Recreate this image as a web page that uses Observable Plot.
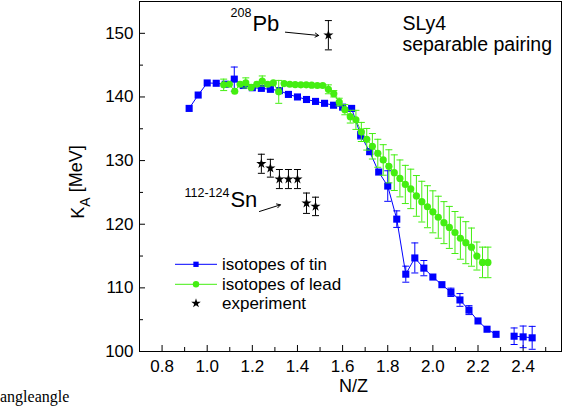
<!DOCTYPE html>
<html>
<head>
<meta charset="utf-8">
<script src="https://cdn.jsdelivr.net/npm/d3@7"></script>
<script src="https://cdn.jsdelivr.net/npm/@observablehq/plot@0.6"></script>
<style>
  body { margin: 0; background: #fff; }
  #chart { position: relative; width: 569px; height: 406px; }
</style>
</head>
<body>
<div id="chart"></div>
<script>
// ---------- data ----------
const tinNZ = [0.92,0.96,1.00,1.04,1.08,1.12,1.16,1.20,1.24,1.28,1.32,1.36,1.40,1.44,1.48,1.52,1.56,1.60,1.64,1.68,1.72,1.76,1.80,1.84,1.88,1.92,1.96,2.00,2.04,2.08,2.12,2.16,2.20,2.24,2.28,2.32,2.36,2.40,2.44];
const tinK  = [138.2,140.3,142.2,142.15,142.0,142.8,141.8,141.45,141.35,141.2,141.0,140.4,140.0,139.6,139.3,139.0,138.7,138.4,138.2,134.0,131.4,128.2,126.0,120.8,112.15,114.7,113.1,111.7,110.5,109.3,108.1,106.5,104.8,103.5,102.7,NaN,102.4,102.3,102.15];
const tinErr = [0,0,0,0,0,1.9,0,0,0,0,0,0,0,0,0,0,0,0,0,0.6,0.4,0,2.4,1.3,1.26,2.36,1.2,0,0,0.65,1.0,0.7,0,0,0,0,1.3,1.7,1.8];

const leadNZ = [1.073,1.098,1.122,1.146,1.171,1.195,1.220,1.244,1.268,1.293,1.317,1.341,1.366,1.390,1.415,1.439,1.463,1.488,1.512,1.537,1.561,1.585,1.610,1.634,1.659,1.683,1.707,1.732,1.756,1.780,1.805,1.829,1.854,1.878,1.902,1.927,1.951,1.976,2.000,2.024,2.049,2.073,2.098,2.122,2.146,2.171,2.195,2.220,2.244];
const leadK  = [141.9,142.0,140.9,142.0,142.2,141.5,142.0,142.5,142.0,142.2,140.8,142.1,142.0,141.95,141.9,141.9,141.85,141.8,141.8,141.2,140.5,139.2,138.0,136.9,136.4,134.5,133.35,132.25,131.15,130.1,129.1,128.1,127.2,126.25,125.55,124.45,123.55,122.75,121.95,121.1,120.25,119.5,118.7,117.8,117.1,116.4,115.0,114.0,114.0];
const leadErr = [0.9,0,0,0,0.8,0,0,0.8,0,0,1.8,0,0,0,0,0,0,0,0,0.7,0.5,0.6,0.8,1.0,1.5,1.5,1.7,2.0,2.2,2.4,2.6,2.8,2.9,3.0,3.1,3.2,3.2,3.3,3.3,3.3,3.3,3.3,3.3,3.3,3.3,3.0,2.2,2.4,2.4];

const expNZ  = [1.24,1.28,1.32,1.36,1.40,1.44,1.48,1.537];
const expK   = [129.5,128.8,127.1,127.1,127.1,123.3,122.8,149.7];
const expErr = [1.5,1.4,1.5,1.5,1.5,1.6,1.45,2.3];

const xTicks = [0.8,1.0,1.2,1.4,1.6,1.8,2.0,2.2,2.4];
const xMinor = [0.9,1.1,1.3,1.5,1.7,1.9,2.1,2.3,2.5];
const yTicks = [100,110,120,130,140,150];
const yMinor = [105,115,125,135,145];

const seriesNames = ["isotopes of tin","isotopes of lead","experiment"];
const xLabel = "N/Z";
const caption = "angleangle";

// annotation texts (anchored in data units)
const notesStart = [
  {x: 1.2005, y: 150.4, text: "Pb", size: 22},
  {x: 1.103, y: 122.63, text: "Sn", size: 22},
  {x: 1.865, y: 150.55, text: "SLy4", size: 19.5},
  {x: 1.865, y: 147.2, text: "separable pairing", size: 19.5}
];
const notesSup = [
  {x: 1.2005, y: 152.6, text: "208", size: 12.5},
  {x: 1.103, y: 124.25, text: "112-124", size: 12.5}
];
const arrows = [
  {x1: 1.3466, y1: 150.18, x2: 1.494, y2: 149.66},
  {x1: 1.2315, y1: 122.0, x2: 1.3245, y2: 123.05}
];

// ---------- build ----------
const BLUE = "#0000ff", GREEN = "#44ee11", BLACK = "#000";
const W = 569, H = 406, mL = 139, mR = 8, mT = 1, mB = 55;
const FW = W - mL - mR, FH = H - mT - mB;
const FONT = "'Liberation Sans', Arial, Helvetica, sans-serif";

const tin = tinNZ.map((x, i) => ({x, k: tinK[i], e: tinErr[i]}));
const lead = leadNZ.map((x, i) => ({x, k: leadK[i], e: leadErr[i]}));
const exp = expNZ.map((x, i) => ({x, k: expK[i], e: expErr[i]}));
const withErr = arr => arr.filter(d => d.e > 0 && !isNaN(d.k));

const cap = {draw(ctx, size) { const r = Math.sqrt(size / Math.PI); ctx.moveTo(-r, 0); ctx.lineTo(r, 0); }};

function errMarks(arr, color) {
  const d = withErr(arr);
  return [
    Plot.ruleX(d, {x: "x", y1: v => v.k - v.e, y2: v => v.k + v.e, stroke: color, strokeWidth: 1}),
    Plot.dot(d, {x: "x", y: v => v.k + v.e, symbol: cap, r: 3.5, stroke: color, strokeWidth: 1, fill: "none"}),
    Plot.dot(d, {x: "x", y: v => v.k - v.e, symbol: cap, r: 3.5, stroke: color, strokeWidth: 1, fill: "none"})
  ];
}

const plot = Plot.plot({
  width: W, height: H,
  marginLeft: mL, marginRight: mR, marginTop: mT, marginBottom: mB,
  style: {fontFamily: FONT, fontSize: "17px", background: "white", color: "black"},
  x: {domain: [0.7, 2.57], axis: null},
  y: {domain: [100, 155], axis: null},
  marks: [
    Plot.axisX({ticks: xTicks, tickSize: 0, tickPadding: 8, tickFormat: d3.format(".1f"), label: null, fontSize: 17}),
    Plot.axisY({ticks: yTicks, tickSize: 0, tickPadding: 6, label: null, fontSize: 17}),
    Plot.tickX(xTicks, {x: d => d, insetTop: FH - 6, stroke: BLACK}),
    Plot.tickX(xMinor, {x: d => d, insetTop: FH - 4, stroke: BLACK}),
    Plot.tickY(yTicks, {y: d => d, insetRight: FW - 6, stroke: BLACK}),
    Plot.tickY(yMinor, {y: d => d, insetRight: FW - 4, stroke: BLACK}),
    // tin
    Plot.line(tin, {x: "x", y: "k", stroke: BLUE, strokeWidth: 1}),
    ...errMarks(tin, BLUE),
    Plot.dot(tin.filter(d => !isNaN(d.k)), {x: "x", y: "k", symbol: "square", r: 4, fill: BLUE}),
    // lead
    ...errMarks(lead, GREEN),
    Plot.line(lead, {x: "x", y: "k", stroke: GREEN, strokeWidth: 1}),
    Plot.dot(lead, {x: "x", y: "k", symbol: "circle", r: 3.6, fill: GREEN}),
    // experiment
    ...errMarks(exp, BLACK),
    Plot.dot(exp, {x: "x", y: "k", symbol: "star", r: 3.2, fill: BLACK}),
    // annotations
    Plot.text(notesStart, {x: "x", y: "y", text: "text", fontSize: d => d.size, textAnchor: "start", lineAnchor: "bottom", fill: BLACK}),
    Plot.text(notesSup, {x: "x", y: "y", text: "text", fontSize: d => d.size, textAnchor: "end", lineAnchor: "bottom", fill: BLACK, dx: -1}),
    Plot.arrow(arrows, {x1: "x1", y1: "y1", x2: "x2", y2: "y2", stroke: BLACK, strokeWidth: 1, headLength: 6, bend: 0}),
    Plot.text([xLabel], {frameAnchor: "bottom", dy: 40, dx: 3, fontSize: 18, fill: BLACK}),
    Plot.frame({stroke: BLACK, strokeWidth: 1})
  ]
});

document.getElementById("chart").appendChild(plot);

// ---------- y-axis label with subscript, legend, caption ----------
const svg = d3.select(plot);
const yl = svg.append("text")
  .attr("transform", "translate(84,182) rotate(-90)")
  .attr("text-anchor", "middle")
  .attr("font-family", FONT).attr("font-size", 18).attr("fill", BLACK);
yl.append("tspan").text("K");
yl.append("tspan").attr("font-size", 14).attr("dy", "0.45em").text("A");
yl.append("tspan").attr("dy", "-0.45em").text("\u00a0[MeV]");

const lg = svg.append("g").attr("font-family", FONT).attr("font-size", 17)
  .attr("fill", BLACK).attr("text-anchor", "start");
const rows = [264.3, 284.3, 303.3];
const colors = [BLUE, GREEN, BLACK];
const syms = [d3.symbolSquare, d3.symbolCircle, d3.symbolStar];
const sizes = [Math.PI * 3.0 * 3.0, Math.PI * 3.2 * 3.2, Math.PI * 3.0 * 3.0];
seriesNames.forEach((name, i) => {
  const y = rows[i];
  if (i < 2) {
    lg.append("line").attr("x1", 175).attr("x2", 217).attr("y1", y).attr("y2", y)
      .attr("stroke", colors[i]).attr("stroke-width", 1);
  }
  lg.append("path").attr("d", d3.symbol(syms[i], sizes[i])())
    .attr("transform", `translate(196,${y})`).attr("fill", colors[i]);
  lg.append("text").attr("x", 222).attr("y", y).attr("dy", "0.35em").text(name);
});

svg.append("text").attr("x", 0).attr("y", 402).attr("text-anchor", "start")
  .attr("font-family", "'Liberation Serif', 'DejaVu Serif', serif").attr("font-size", 16)
  .attr("fill", BLACK).text(caption);
</script>
</body>
</html>
